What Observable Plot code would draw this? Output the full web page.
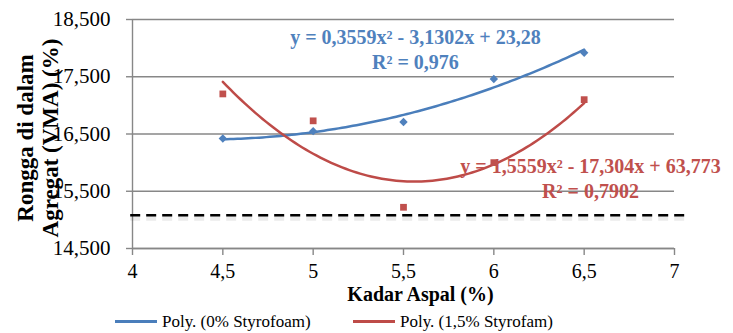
<!DOCTYPE html>
<html>
<head>
<meta charset="utf-8">
<script src="https://cdn.jsdelivr.net/npm/d3@7"></script>
<script src="https://cdn.jsdelivr.net/npm/@observablehq/plot@0.6"></script>
<style>
  html, body { margin: 0; padding: 0; background: #fff; }
  #chart { width: 733px; height: 333px; position: relative; overflow: hidden; font-family: "Liberation Serif", serif; }
  #legend { position: relative; height: 23px; display: flex; align-items: center; font-size: 17px; color: #000; }
  .item { display: flex; align-items: center; position: absolute; top: 0; height: 23px; }
  .sw { width: 42px; height: 3px; margin-right: 5px; }
</style>
</head>
<body>
<div id="chart"></div>
<script>
// Data
const kadarAspal = [4.5, 5, 5.5, 6, 6.5];
const vma0Styrofoam = [16.42, 16.55, 16.71, 17.46, 17.92];
const vma15Styrofam = [17.20, 16.73, 15.22, 16.00, 17.10];
const seriesNames = ["Poly. (0% Styrofoam)", "Poly. (1,5% Styrofam)"];
const seriesColors = ["#4A7EBB", "#BE4B48"];
const markerColors = ["#4F81BD", "#C0504D"];
const xTicks = [4, 4.5, 5, 5.5, 6, 6.5, 7];
const yTicks = [14.5, 15.5, 16.5, 17.5, 18.5];
const vmaLimit = 15.08;
const limitRange = [3.99, 7.06];
const equationTexts = [
  "y = 0,3559x² - 3,1302x + 23,28\nR² = 0,976",
  "y = 1,5559x² - 17,304x + 63,773\nR² = 0,7902"
];
const equationAnchorX = [5.566, 6.535];
const equationAnchorY = [18.0, 15.745];
const xTitle = "Kadar Aspal (%)";
const yTitle = "Rongga di dalam\nAgregat (VMA) (%)";

// least-squares quadratic fit (the chart's polynomial trendline)
function polyfit2(xs, ys) {
  const n = xs.length;
  let s = [0, 0, 0, 0, 0], t = [0, 0, 0];
  for (let i = 0; i < n; i++) {
    for (let k = 0; k < 5; k++) s[k] += Math.pow(xs[i], k);
    for (let k = 0; k < 3; k++) t[k] += ys[i] * Math.pow(xs[i], k);
  }
  const A = [[s[0], s[1], s[2], t[0]], [s[1], s[2], s[3], t[1]], [s[2], s[3], s[4], t[2]]];
  for (let i = 0; i < 3; i++) {
    for (let j = i + 1; j < 3; j++) {
      const f = A[j][i] / A[i][i];
      for (let k = i; k < 4; k++) A[j][k] -= f * A[i][k];
    }
  }
  const c = [0, 0, 0];
  for (let i = 2; i >= 0; i--) {
    let v = A[i][3];
    for (let k = i + 1; k < 3; k++) v -= A[i][k] * c[k];
    c[i] = v / A[i][i];
  }
  return c; // c0 + c1 x + c2 x^2
}

const seriesValues = [vma0Styrofoam, vma15Styrofam];
const points = [];
const curves = [];
seriesValues.forEach((vals, si) => {
  kadarAspal.forEach((x, i) => points.push({series: si, x, y: vals[i]}));
  const c = polyfit2(kadarAspal, vals);
  const x0 = d3.min(kadarAspal), x1 = d3.max(kadarAspal);
  const steps = 100;
  for (let k = 0; k <= steps; k++) {
    const x = x0 + (x1 - x0) * k / steps;
    curves.push({series: si, x, y: c[0] + c[1] * x + c[2] * x * x});
  }
});
const labels = equationTexts.map((text, i) => ({text, x: equationAnchorX[i], y: equationAnchorY[i], series: i}));

const grey = "#878787";
const fmtY = d => d.toFixed(3).replace(".", ",");
const fmtX = d => String(d).replace(".", ",");

const plot = Plot.plot({
  width: 733,
  height: 310,
  marginLeft: 132,
  marginRight: 59,
  marginTop: 19,
  marginBottom: 62,
  x: {domain: [4, 7]},
  y: {domain: [14.5, 18.5]},
  style: {fontFamily: "'Liberation Serif', serif", background: "#fff", color: "#000"},
  marks: [
    Plot.gridY(yTicks, {stroke: grey, strokeOpacity: 1, strokeWidth: 1.4}),
    Plot.axisY(yTicks, {tickSize: 6, tickPadding: 16, tickFormat: fmtY, fontSize: 21, stroke: grey, fill: "#000", strokeWidth: 1.4, label: null}),
    Plot.axisX(xTicks, {tickSize: 7, tickPadding: 8, tickFormat: fmtX, fontSize: 20, stroke: grey, fill: "#000", strokeWidth: 1.4, label: null}),
    Plot.ruleY([14.5], {stroke: grey, strokeWidth: 1.4}),
    Plot.ruleX([4], {stroke: grey, strokeWidth: 1.4}),
    // dashed reference line with soft shadow
    Plot.ruleY([vmaLimit], {x1: limitRange[0], x2: limitRange[1], stroke: "#000", strokeOpacity: 0.08, strokeWidth: 5, dy: 3, strokeDasharray: "10,6"}),
    Plot.ruleY([vmaLimit], {x1: limitRange[0], x2: limitRange[1], stroke: "#000", strokeWidth: 2.5, strokeDasharray: "10,6"}),
    Plot.line(curves, {x: "x", y: "y", z: "series", stroke: d => seriesColors[d.series], strokeWidth: 2.5}),
    Plot.dot(points.filter(d => d.series === 0), {x: "x", y: "y", symbol: "diamond2", r: 3.8, fill: markerColors[0], stroke: "none"}),
    Plot.dot(points.filter(d => d.series === 1), {x: "x", y: "y", symbol: "square2", r: 4.3, fill: markerColors[1], stroke: "none"}),
    Plot.text(labels, {x: "x", y: "y", text: "text", fill: d => markerColors[d.series], fontSize: 20, fontWeight: "bold", lineHeight: 1.25}),
    Plot.text([xTitle], {frameAnchor: "bottom", dx: 17, dy: 52, text: d => d, fontSize: 20, fontWeight: "bold", fill: "#000"}),
    Plot.text([yTitle], {frameAnchor: "left", textAnchor: "middle", lineAnchor: "middle", dx: -95, dy: 4, rotate: -90, text: d => d, fontSize: 23, fontWeight: "bold", fill: "#000", lineHeight: 1.09})
  ]
});
document.getElementById("chart").appendChild(plot);

const legend = document.createElement("div");
legend.id = "legend";
const legendX = [115, 353];
seriesNames.forEach((name, i) => {
  const item = document.createElement("div");
  item.className = "item";
  item.style.left = legendX[i] + "px";
  const sw = document.createElement("span");
  sw.className = "sw";
  sw.style.background = seriesColors[i];
  const tx = document.createElement("span");
  tx.textContent = name;
  item.appendChild(sw);
  item.appendChild(tx);
  legend.appendChild(item);
});
document.getElementById("chart").appendChild(legend);
</script>
</body>
</html>
